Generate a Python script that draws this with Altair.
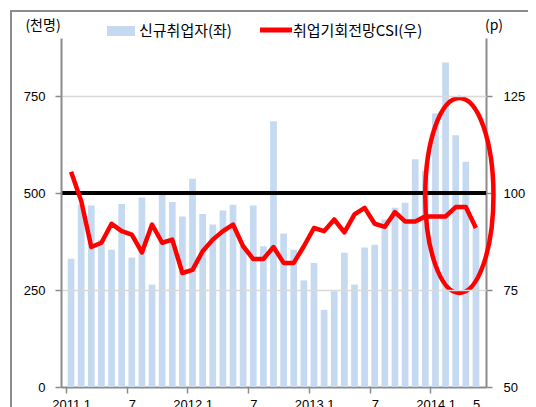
import altair as alt
import pandas as pd

# ---------------- data ----------------
MONTH_INDEX = list(range(41))  # 2011.1 ... 2014.5
NEW_HIRES = [331, 470, 468, 380, 354, 472, 334, 489, 264, 497, 477, 440,
             537, 446, 419, 455, 470, 365, 468, 363, 685, 396, 354, 275,
             320, 199, 247, 346, 264, 360, 367, 432, 462, 475, 587, 558,
             705, 837, 649, 581, 413]
CSI = [105.5, 98.0, 86.1, 87.2, 92.1, 90.2, 89.3, 84.7, 91.9, 87.2, 88.0, 79.4,
       80.2, 85.0, 88.0, 90.2, 91.9, 86.3, 83.0, 83.0, 86.1, 82.0, 82.0, 86.3,
       91.0, 90.2, 93.2, 89.9, 94.5, 96.2, 92.1, 91.3, 95.1, 92.7, 92.7, 94.0,
       94.0, 94.0, 96.4, 96.4, 91.0]
TICK_POS = [0, 6, 12, 18, 24, 30, 36, 40]
TICK_TEXT = ["2011.1", "7", "2012.1", "7", "2013.1", "7", "2014.1", "5"]
LEFT_DOMAIN = [0, 900]
RIGHT_DOMAIN = [50, 140]
LEFT_TICKS = [0, 250, 500, 750]
RIGHT_TICKS = [50, 75, 100, 125]
REF_CSI = 100
HIGHLIGHT = {"m": [38.86], "c": [99.4]}

SERIES1 = "신규취업자(좌)"
SERIES2 = "취업기회전망CSI(우)"

# ---------------- layout ----------------
W, H = 425, 349
BAND = W / 41.0
AXIS_GRAY = "#8c8c8c"
BAR_COLOR = "#c5d9f1"
RED = "#ff0000"

df_bar = pd.DataFrame({"m": [i + 0.5 for i in MONTH_INDEX], "v": NEW_HIRES})
df_line = pd.DataFrame({"m": [i + 0.5 for i in MONTH_INDEX], "c": CSI})
df_hl = pd.DataFrame(HIGHLIGHT)

x_scale = alt.Scale(domain=[0, 41], nice=False, zero=False)
label_expr = " : ".join(
    f"datum.value == {p} ? '{t}'" for p, t in zip(TICK_POS, TICK_TEXT)
) + " : ''"

x_axis = alt.Axis(
    values=TICK_POS, labelExpr=label_expr, labelOffset=BAND / 2,
    title=None, grid=False, labelAngle=0, labelPadding=5,
    tickOpacity={"condition": {"test": "datum.value == 40", "value": 0}, "value": 1},
)

X = alt.X("m:Q", scale=x_scale, axis=x_axis)

bars = alt.Chart(df_bar).mark_bar(size=6.7, color=BAR_COLOR).encode(
    x=X,
    y=alt.Y("v:Q", scale=alt.Scale(domain=LEFT_DOMAIN, nice=False),
            axis=alt.Axis(values=LEFT_TICKS, title=None, grid=True,
                          gridColor="#d9d9d9", gridWidth=1.5, labelPadding=10,
                          gridOpacity={"condition": {"test": "datum.value == 0 || datum.value == 500",
                                                     "value": 0}, "value": 1},
                          zindex=1)),
)

ref_rule = alt.Chart(df_line).mark_rule(color="black", strokeWidth=4).encode(
    y=alt.YDatum(REF_CSI)
)

line = alt.Chart(df_line).mark_line(color=RED, strokeWidth=4.5, strokeJoin="round").encode(
    x=X,
    y=alt.Y("c:Q", scale=alt.Scale(domain=RIGHT_DOMAIN, nice=False, zero=False),
            axis=alt.Axis(values=RIGHT_TICKS, title=None, grid=False,
                          orient="right", labelPadding=11)),
)

ELLIPSE = "M -0.35 0 A 0.35 1 0 1 1 0.35 0 A 0.35 1 0 1 1 -0.35 0 Z"
ellipse = alt.Chart(df_hl).mark_point(
    shape=ELLIPSE, size=195 * 195, filled=False, stroke=RED, strokeWidth=4.5, opacity=1
).encode(x=alt.X("m:Q", scale=x_scale), y=alt.Y("c:Q"))

# decorations (frame, units, legend)
frame_left = alt.Chart(df_hl).mark_rule(color=AXIS_GRAY, strokeWidth=2).encode(
    x=alt.value(-50), y=alt.value(-27), y2=alt.value(H + 40))
frame_top = alt.Chart(df_hl).mark_rule(color=AXIS_GRAY, strokeWidth=2).encode(
    x=alt.value(-51), x2=alt.value(W + 60), y=alt.value(-27))

KFONT = "Noto Sans CJK KR"
unit_left = alt.Chart(df_hl).mark_text(text="(천명)", font=KFONT, fontSize=14,
                                       align="center", baseline="middle").encode(
    x=alt.value(-18), y=alt.value(-12))
unit_right = alt.Chart(df_hl).mark_text(text="(p)", font=KFONT, fontSize=14,
                                        align="center", baseline="middle").encode(
    x=alt.value(433), y=alt.value(-12))
leg_rect = alt.Chart(df_hl).mark_rect(color=BAR_COLOR).encode(
    x=alt.value(46), x2=alt.value(74), y=alt.value(-12), y2=alt.value(-2))
leg_text1 = alt.Chart(df_hl).mark_text(text=SERIES1, font=KFONT, fontSize=15,
                                       align="left", baseline="middle").encode(
    x=alt.value(78), y=alt.value(-7))
leg_line = alt.Chart(df_hl).mark_rule(color=RED, strokeWidth=5).encode(
    x=alt.value(199), x2=alt.value(231), y=alt.value(-8))
leg_text2 = alt.Chart(df_hl).mark_text(text=SERIES2, font=KFONT, fontSize=15,
                                       align="left", baseline="middle").encode(
    x=alt.value(232), y=alt.value(-7))

left_layer = alt.layer(bars, frame_left, frame_top, unit_left, unit_right,
                       leg_rect, leg_text1, leg_line, leg_text2)
right_layer = alt.layer(ref_rule, line, ellipse)

chart = alt.layer(left_layer, right_layer).resolve_scale(y="independent").properties(
    width=W, height=H,
    autosize=alt.AutoSizeParams(type="none"),
    padding={"left": 53, "top": 30, "right": 42, "bottom": 20},
).configure_view(stroke=None).configure_axis(
    labelFont="Liberation Sans", labelFontSize=13, labelColor="black",
    domainColor=AXIS_GRAY, domainWidth=2, tickColor=AXIS_GRAY, tickSize=6,
    tickWidth=1.5,
)

chart.save("out.html", embed_options={"renderer": "svg", "actions": False})
